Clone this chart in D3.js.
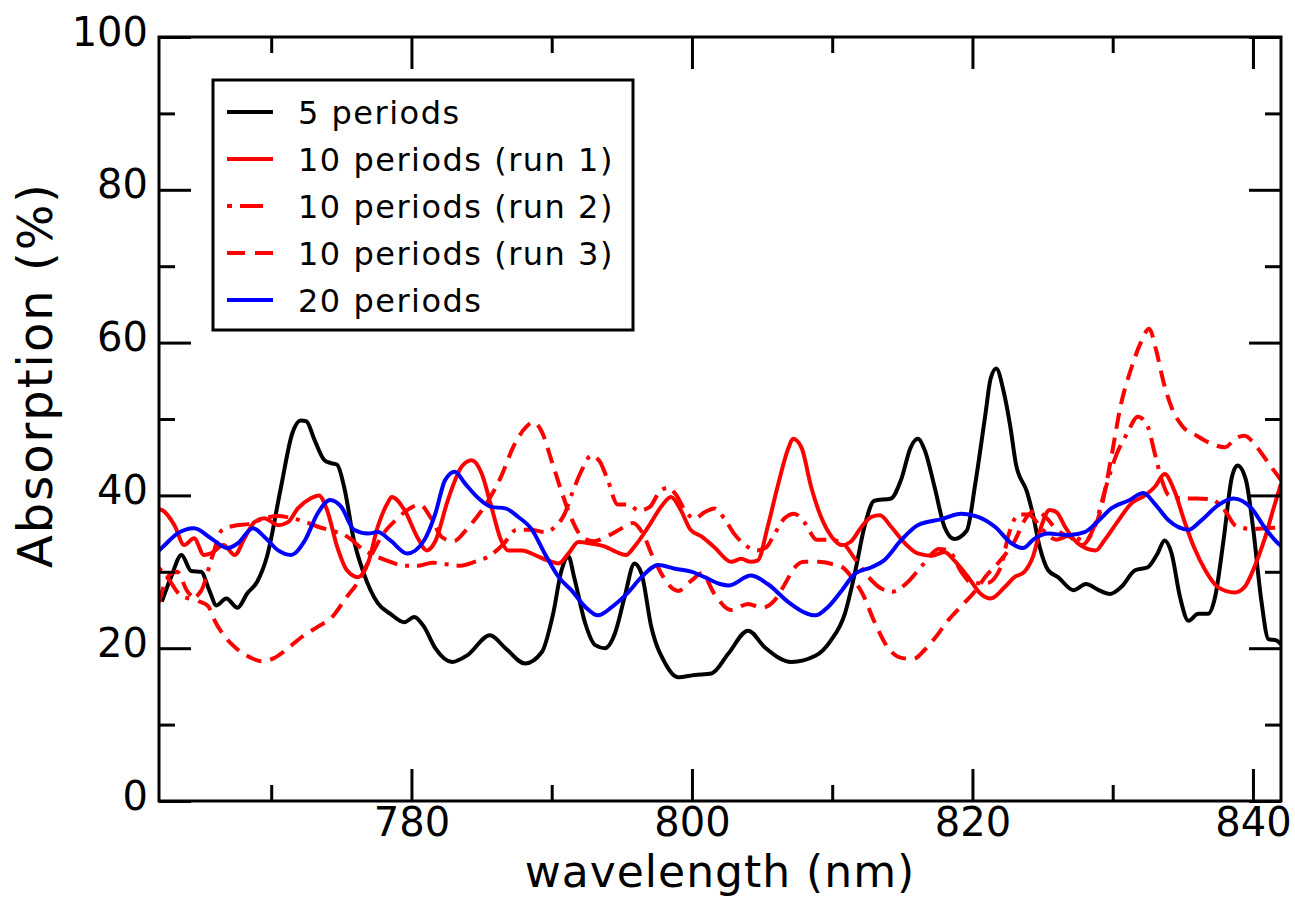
<!DOCTYPE html>
<html>
<head>
<meta charset="utf-8">
<script src="https://cdn.jsdelivr.net/npm/d3@7"></script>
<style>
  body { margin: 0; background: #fff; }
  text { font-family: "DejaVu Sans", sans-serif; fill: #000; }
</style>
</head>
<body>
<div id="chart"></div>
<script>
// wavelength (nm) / absorption (%) pairs
const wl5 = [762.2,762.9,763.6,764.3,765.0,765.6,766.1,766.8,767.6,768.3,769.0,769.7,770.7,771.5,772.1,772.5,773.1,773.8,774.3,774.7,775.2,775.9,776.6,777.6,778.5,779.5,780.2,780.9,781.7,782.9,784.0,785.6,786.7,788.1,789.3,790.1,790.7,791.2,791.6,792.4,793.1,793.8,794.5,795.2,795.9,796.4,797.1,798.1,799.0,800.2,801.4,802.6,804.0,805.2,807.1,808.8,809.9,810.9,811.6,812.3,813.0,814.2,814.9,815.6,816.1,816.6,817.3,818.0,818.7,819.6,820.2,820.9,821.3,821.7,822.2,822.7,823.1,823.9,824.3,824.8,825.4,826.1,827.2,828.1,829.0,829.8,830.6,831.6,832.5,833.2,833.7,834.2,834.8,835.4,836.1,836.8,837.3,837.9,838.5,838.9,839.5,840.0,840.6,841.1,841.7,842.0];
const abs5 = [26.1,29.5,32.2,30.1,30.0,27.5,25.6,26.5,25.3,27.2,28.7,32.0,41.1,48.1,49.8,49.7,47.2,44.6,44.2,44.0,41.1,34.1,29.8,25.9,24.5,23.4,24.1,22.8,20.0,18.2,19.1,21.7,20.0,18.0,19.5,24.5,30.2,32.0,29.3,23.2,20.4,20.0,21.9,26.7,31.1,29.8,22.8,18.0,16.2,16.5,16.7,19.3,22.3,20.1,18.2,19.0,21.0,24.5,29.7,35.9,39.3,39.6,42.0,46.3,47.4,45.9,41.1,35.9,34.3,35.4,41.5,50.3,55.3,56.6,53.8,49.0,44.1,40.4,37.6,33.2,30.2,29.3,27.6,28.4,27.6,27.1,28.0,30.2,30.6,32.4,34.1,32.4,26.7,23.6,24.5,24.5,26.7,34.1,42.4,43.9,42.0,35.9,26.2,21.2,21.0,20.5];

const wl10a = [762.0,762.3,763.1,763.8,764.5,765.2,765.7,766.6,767.4,768.1,768.8,769.5,770.5,771.2,771.9,772.8,773.4,774.0,774.7,775.4,776.2,776.9,777.6,778.3,778.6,779.5,780.4,781.1,781.7,782.6,783.6,784.3,785.0,785.7,786.4,786.9,787.9,788.8,789.7,790.5,791.2,791.9,792.8,793.8,794.6,795.3,795.9,796.9,797.8,798.5,799.2,799.9,800.7,801.6,802.8,803.5,804.2,804.7,805.4,806.1,806.9,807.2,807.8,808.5,809.2,810.0,810.7,811.3,812.1,812.8,813.4,814.2,815.2,816.1,817.1,818.0,818.7,819.7,820.6,821.3,822.3,823.0,823.7,824.3,824.9,825.5,826.0,826.6,827.3,828.2,828.8,829.4,830.4,831.3,832.3,833.0,833.7,834.4,835.1,835.8,836.6,837.5,838.7,839.4,840.1,840.8,841.5,842.0];
const abs10a = [38.2,38.0,36.1,33.5,34.4,32.2,32.4,33.5,32.2,34.4,36.5,37.0,36.1,36.5,38.3,39.6,40.0,38.0,33.3,30.2,29.3,31.1,35.9,39.0,39.8,38.1,34.6,32.8,34.0,39.4,43.8,44.6,42.9,38.5,34.1,32.8,32.8,32.2,31.5,31.1,32.4,33.9,33.7,33.3,32.6,32.2,33.3,35.9,38.5,39.8,38.1,35.5,34.6,33.2,31.3,31.7,31.3,31.5,35.9,41.1,46.3,47.4,46.3,41.1,37.2,34.5,33.5,33.9,35.9,37.2,37.4,35.9,33.7,32.4,32.1,32.6,31.5,29.3,27.1,26.5,28.0,29.3,30.0,31.9,35.9,38.1,37.8,35.9,34.1,33.0,32.8,34.1,36.7,38.9,40.0,41.1,42.8,40.6,36.7,33.2,30.2,28.0,27.3,28.0,30.6,34.1,38.5,41.5];

const wl10b = [762.0,762.7,763.5,764.3,765.0,765.8,766.5,767.3,768.5,769.5,770.5,771.5,772.5,773.5,774.5,775.5,776.5,777.5,778.5,779.5,780.5,781.5,782.5,783.5,784.5,785.5,786.5,787.5,788.5,789.5,790.3,790.9,791.5,792.2,792.8,793.4,794.0,794.7,795.5,796.2,797.0,797.7,798.3,798.9,799.5,800.2,800.9,801.6,802.3,803.0,803.8,804.6,805.3,805.9,806.6,807.3,808.0,808.9,809.8,810.7,811.7,812.6,813.5,814.3,815.3,816.5,817.6,818.3,819.2,820.0,821.0,822.0,822.6,823.3,824.0,825.0,826.0,827.0,828.0,828.8,829.5,830.3,831.0,831.8,832.5,833.0,833.5,834.0,835.0,836.0,837.0,838.0,838.8,840.0,841.0,842.0];
const abs10b = [30.5,29.0,27.0,26.5,27.5,32.0,35.5,36.0,36.3,37.0,37.3,37.0,36.5,35.8,35.3,34.5,33.0,32.0,31.3,30.8,30.8,31.2,31.0,30.8,31.3,32.0,33.5,35.5,35.5,35.2,36.0,37.5,40.5,43.5,45.2,44.5,42.0,38.8,38.8,38.0,38.5,40.5,41.0,40.0,38.0,37.0,37.8,38.3,37.0,35.0,33.5,32.8,33.2,35.0,37.0,37.6,36.5,34.2,34.2,33.8,31.5,29.3,27.8,27.4,28.5,31.0,33.0,32.8,30.0,28.5,28.5,30.5,35.0,37.5,37.5,35.5,34.2,34.8,34.0,36.5,41.0,45.5,48.0,50.3,49.0,45.5,42.0,40.0,39.6,39.6,39.5,38.0,36.0,35.6,35.7,35.8];

const wl10c = [762.0,762.7,763.3,764.0,764.8,765.5,766.0,766.7,767.5,768.5,769.3,770.2,771.2,772.2,773.3,774.3,775.3,776.3,777.1,778.0,778.9,779.8,780.6,781.4,782.2,783.0,784.0,784.8,785.5,786.4,787.3,788.2,788.7,789.3,790.0,790.7,791.4,792.2,793.0,794.0,795.0,795.8,796.5,797.2,797.9,798.5,799.0,800.0,800.7,801.6,802.8,804.0,805.0,806.0,806.6,807.3,808.0,809.0,810.0,810.8,811.5,812.2,813.0,814.0,815.0,815.8,816.6,817.4,818.2,819.2,820.2,821.0,822.0,823.0,823.8,824.5,825.3,826.0,827.0,827.8,828.5,829.2,829.9,830.6,831.3,832.0,832.6,833.1,833.6,834.2,835.0,836.0,837.0,838.0,838.8,839.4,840.2,841.0,842.0];
const abs10c = [26.0,29.5,30.0,27.5,26.2,25.5,23.5,21.5,20.0,18.8,18.3,18.7,20.0,21.5,22.8,24.0,26.5,29.0,32.0,35.0,36.8,38.2,38.8,37.0,34.5,34.0,35.7,37.5,39.4,42.5,46.5,49.0,49.6,48.3,44.5,40.5,37.0,34.5,34.0,34.7,35.7,36.4,35.0,32.0,29.5,28.0,27.5,28.9,29.8,27.1,25.0,25.8,25.3,26.5,28.3,30.5,31.3,31.3,31.0,30.5,29.0,27.0,23.5,20.0,18.7,18.6,19.8,21.5,23.5,25.5,27.5,29.5,31.5,34.0,37.0,38.0,37.0,35.5,34.5,33.5,35.0,38.5,45.0,52.0,56.5,60.0,61.8,59.0,55.0,51.5,49.0,47.8,46.8,46.3,47.5,47.8,46.5,44.5,42.0];

const wl20 = [762.0,762.3,763.3,764.5,765.7,766.9,767.6,768.7,769.5,770.5,771.4,772.4,773.3,774.2,775.0,775.9,776.9,777.6,778.5,779.7,780.9,781.7,782.4,783.1,783.8,784.8,785.7,786.7,787.6,788.6,789.5,790.5,791.4,792.4,793.3,794.3,795.4,796.4,797.6,798.8,800.0,800.9,802.0,802.6,804.2,805.4,806.9,808.0,808.8,809.7,810.7,811.6,812.8,813.7,814.9,816.1,817.8,819.2,820.4,821.6,822.8,823.6,824.4,825.4,826.8,828.0,829.0,829.9,831.1,832.2,833.0,834.0,835.4,836.3,837.5,838.6,839.9,840.8,841.8,842.0];
const abs20 = [32.8,33.3,35.0,35.7,34.4,33.1,33.7,35.7,34.6,32.8,32.2,34.1,37.6,39.4,38.5,35.5,35.0,35.2,34.1,32.4,34.1,37.6,42.0,43.1,41.6,39.6,38.5,38.3,37.2,35.5,32.4,29.3,27.6,25.4,24.3,25.4,27.2,29.3,30.9,30.4,30.0,29.3,28.4,28.2,29.5,28.4,26.0,24.7,24.3,25.4,27.6,29.7,30.6,31.5,34.1,36.1,36.9,37.6,37.2,35.9,33.7,33.1,34.3,35.0,34.8,35.2,36.7,38.3,39.3,40.3,38.9,36.7,35.5,36.7,38.7,39.6,38.3,35.9,33.7,33.4];

const seriesNames = ["5 periods", "10 periods (run 1)", "10 periods (run 2)", "10 periods (run 3)", "20 periods"];
const xTicks = [780, 800, 820, 840];
const xMinorTicks = [770, 790, 810, 830];
const yTicks = [0, 20, 40, 60, 80, 100];
const yMinorTicks = [10, 30, 50, 70, 90];

const series = [
  { name: seriesNames[0], wl: wl5, abs: abs5, color: "#000", dash: null },
  { name: seriesNames[1], wl: wl10a, abs: abs10a, color: "#f00", dash: null },
  { name: seriesNames[2], wl: wl10b, abs: abs10b, color: "#f00", dash: "4,8,20,8" },
  { name: seriesNames[3], wl: wl10c, abs: abs10c, color: "#f00", dash: "16,9" },
  { name: seriesNames[4], wl: wl20, abs: abs20, color: "#00f", dash: null }
];

const margin = { top: 37, right: 14, bottom: 99, left: 159 };
const width = 1295 - margin.left - margin.right;
const height = 900 - margin.top - margin.bottom;

const x = d3.scaleLinear().domain([762, 842]).range([0, width]);
const y = d3.scaleLinear().domain([0, 100]).range([height, 0]);

const svg = d3
  .select("#chart")
  .append("svg")
  .attr("width", 1295)
  .attr("height", 900)
  .append("g")
  .attr("transform", "translate(" + margin.left + "," + margin.top + ")");

svg.append("clipPath").attr("id", "clip")
  .append("rect").attr("width", width).attr("height", height);

// curves
const line = d3.line()
  .x(function(d) { return x(d[0]); })
  .y(function(d) { return y(d[1]); })
  .curve(d3.curveMonotoneX);

series.forEach(function(s) {
  const pts = s.wl.map(function(w, i) { return [w, s.abs[i]]; });
  svg.append("path")
    .datum(pts)
    .attr("clip-path", "url(#clip)")
    .attr("fill", "none")
    .attr("stroke", s.color)
    .attr("stroke-width", 4)
    .attr("stroke-linejoin", "round")
    .attr("stroke-dasharray", s.dash)
    .attr("d", line);
});

// axes, ticks pointing inward on all four sides
function styleAxis(g) {
  g.select(".domain").remove();
  g.selectAll(".tick line").attr("stroke", "#000").attr("stroke-width", 3);
  g.selectAll(".tick text").attr("font-size", 40).attr("font-family", "DejaVu Sans");
}

svg.append("g")
  .attr("transform", "translate(0," + height + ")")
  .call(d3.axisBottom(x).tickValues(xTicks).tickSize(-32).tickPadding(7).tickFormat(d3.format("d")))
  .call(styleAxis);
svg.append("g")
  .attr("transform", "translate(0," + height + ")")
  .call(d3.axisBottom(x).tickValues(xMinorTicks).tickSize(-16).tickFormat(""))
  .call(styleAxis);
svg.append("g")
  .call(d3.axisTop(x).tickValues(xTicks).tickSize(-32).tickFormat(""))
  .call(styleAxis);
svg.append("g")
  .call(d3.axisTop(x).tickValues(xMinorTicks).tickSize(-16).tickFormat(""))
  .call(styleAxis);

svg.append("g")
  .call(d3.axisLeft(y).tickValues(yTicks).tickSize(-32).tickPadding(11))
  .call(styleAxis)
  .selectAll(".tick text").attr("dy", "0.2em");
svg.append("g")
  .call(d3.axisLeft(y).tickValues(yMinorTicks).tickSize(-16).tickFormat(""))
  .call(styleAxis);
svg.append("g")
  .attr("transform", "translate(" + width + ",0)")
  .call(d3.axisRight(y).tickValues(yTicks).tickSize(-32).tickFormat(""))
  .call(styleAxis);
svg.append("g")
  .attr("transform", "translate(" + width + ",0)")
  .call(d3.axisRight(y).tickValues(yMinorTicks).tickSize(-16).tickFormat(""))
  .call(styleAxis);

// frame
svg.append("rect")
  .attr("width", width)
  .attr("height", height)
  .attr("fill", "none")
  .attr("stroke", "#000")
  .attr("stroke-width", 3);

// axis titles
svg.append("text")
  .attr("x", width / 2)
  .attr("y", height + 86)
  .attr("text-anchor", "middle")
  .attr("font-size", 44)
  .attr("letter-spacing", 1)
  .text("wavelength (nm)");

svg.append("text")
  .attr("transform", "translate(" + (52 - margin.left) + "," + (375 - margin.top) + ") rotate(-90)")
  .attr("text-anchor", "middle")
  .attr("font-size", 48)
  .attr("letter-spacing", 2)
  .text("Absorption (%)");

// legend
const legend = svg.append("g")
  .attr("transform", "translate(" + (213 - margin.left) + "," + (80 - margin.top) + ")");

legend.append("rect")
  .attr("width", 420)
  .attr("height", 250)
  .attr("fill", "#fff")
  .attr("stroke", "#000")
  .attr("stroke-width", 3);

const row = legend.selectAll(".legend-row")
  .data(series)
  .enter()
  .append("g")
  .attr("class", "legend-row")
  .attr("transform", function(d, i) { return "translate(0," + (32 + i * 47) + ")"; });

row.append("line")
  .attr("x1", 14)
  .attr("x2", 60)
  .attr("stroke", function(d) { return d.color; })
  .attr("stroke-width", 4)
  .attr("stroke-dasharray", function(d, i) { return i === 2 ? "5,8,23,10" : (i === 3 ? "18,10" : null); });

row.append("text")
  .attr("x", 85)
  .attr("dy", "0.36em")
  .attr("font-size", 32)
  .attr("letter-spacing", 1.5)
  .text(function(d) { return d.name; });
</script>
</body>
</html>
